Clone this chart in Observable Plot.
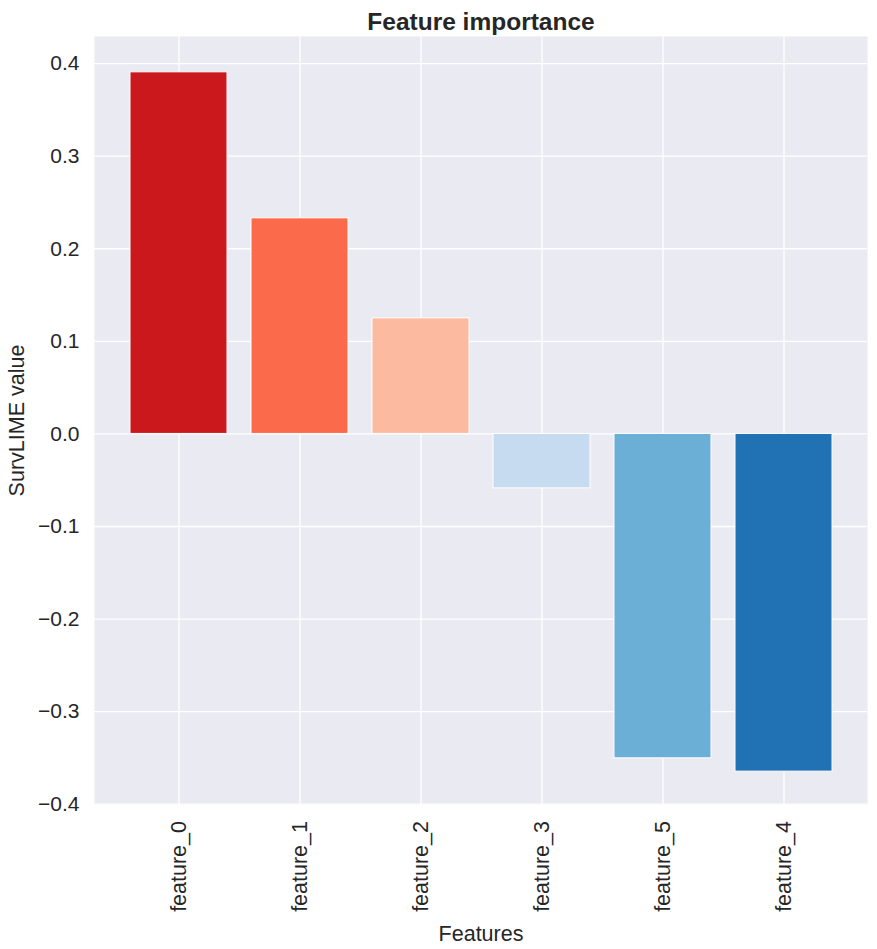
<!DOCTYPE html>
<html>
<head>
<meta charset="utf-8">
<script src="https://cdn.jsdelivr.net/npm/d3@7"></script>
<script src="https://cdn.jsdelivr.net/npm/@observablehq/plot@0.6"></script>
<style>
  html, body { margin: 0; padding: 0; background: white; }
</style>
</head>
<body>
<div id="chart"></div>
<script>
const features = ["feature_0", "feature_1", "feature_2", "feature_3", "feature_5", "feature_4"];
const values = [0.3906, 0.2329, 0.1249, -0.0588, -0.3504, -0.3648];
const colors = ["#cb181d", "#fb6a4a", "#fcbba1", "#c6dbef", "#6baed6", "#2171b5"];
const yTicks = [-0.4, -0.3, -0.2, -0.1, 0.0, 0.1, 0.2, 0.3, 0.4];
const titleText = "Feature importance";
const xLabel = "Features";
const yLabel = "SurvLIME value";

const data = features.map((f, i) => ({feature: f, value: values[i], color: colors[i]}));
const fmt = d3.format(".1f");
const textColor = "#262626";
const font = "'Liberation Sans', Arial, sans-serif";

const chart = Plot.plot({
  width: 877,
  height: 949,
  marginLeft: 94,
  marginRight: 10,
  marginTop: 36,
  marginBottom: 145,
  style: {background: "white", fontFamily: font, color: textColor, overflow: "visible"},
  x: {type: "band", domain: features, paddingInner: 0.2, paddingOuter: 0.29, align: 0.5, label: null},
  y: {domain: [-0.4003, 0.4293], label: null},
  marks: [
    Plot.frame({fill: "#eaeaf2", stroke: null}),
    Plot.gridX({stroke: "white", strokeOpacity: 1, strokeWidth: 1.3}),
    Plot.gridY(yTicks, {stroke: "white", strokeOpacity: 1, strokeWidth: 1.3}),
    Plot.barY(data, {x: "feature", y: "value", fill: "color", stroke: "white", strokeWidth: 1}),
    Plot.axisX({tickSize: 0, tickPadding: 16.5, tickRotate: -90, fontSize: 21.5, fill: textColor, label: null}),
    Plot.axisY(yTicks, {tickSize: 0, tickPadding: 15, fontSize: 21, fill: textColor, tickFormat: fmt, label: null}),
    Plot.text([titleText], {frameAnchor: "top", dy: -7, lineAnchor: "bottom", fontSize: 24.5, fontWeight: "bold", fill: textColor}),
    Plot.text([xLabel], {frameAnchor: "bottom", dy: 136, lineAnchor: "bottom", fontSize: 21.5, fill: textColor}),
    Plot.text([yLabel], {frameAnchor: "left", dx: -77, rotate: -90, textAnchor: "middle", lineAnchor: "middle", fontSize: 21.5, fill: textColor})
  ]
});
document.getElementById("chart").appendChild(chart);
</script>
</body>
</html>
